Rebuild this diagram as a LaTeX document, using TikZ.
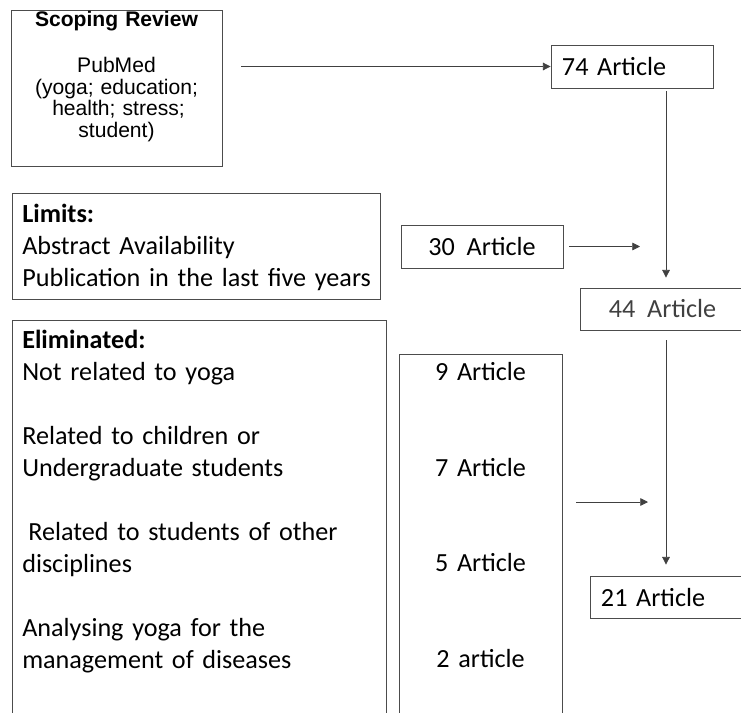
\documentclass[tikz,border=0pt]{standalone}
\usepackage{fontspec}
\setmainfont{Carlito}
\newfontfamily\arialfont{Liberation Sans}
\usetikzlibrary{positioning,arrows.meta}

\begin{document}
\begin{tikzpicture}[x=0.025cm,y=-0.025cm,
  every node/.style={inner sep=0pt},
  box/.style={rectangle,draw=black!70,line width=0.6pt},
  txt/.style={font=\fontsize{18.6}{22.8}\selectfont,align=left},
  arr/.style={-{Triangle[length=5.5pt,width=5.5pt]},draw=black!75,line width=0.6pt}]
  \useasboundingbox (0,0) rectangle (741,712);
  \clip (0,0) rectangle (741,712);
  % search
  \node (scoping) [box,minimum width=5.275cm,minimum height=3.9cm] at (116.5,88) {};
  \node (pubmed) [font=\arialfont\fontsize{15}{15.3}\selectfont,text width=5cm,align=center,anchor=base] at (116.5,26)
    {\textbf{Scoping Review}\\[18pt]PubMed\\(yoga; education;\\\hspace*{0.1cm}health; stress;\\student)};
  \node (a74) [box,txt,minimum width=4.05cm,minimum height=1.075cm,text width=3.5cm,inner xsep=0.275cm] at (632,66.5) {74 Article};
  % limits
  \node (limits) [box,minimum width=9.2cm,minimum height=2.65cm] at (196,246) {};
  \node (limitstxt) [txt,text width=9cm,anchor=base west] at (22,222)
    {\textbf{Limits:}\\Abstract Availability\\Publication in the last five years};
  \node (a30) [box,txt,minimum width=4.05cm,minimum height=1.075cm] at (482,246.5) {30\ \ Article};
  \node (a44) [box,txt,text=black!75,minimum width=4.125cm,minimum height=1.05cm] at (662.5,309) {44\ \ Article};
  % eliminated
  \node (elim) [box,minimum width=9.35cm,minimum height=11cm] at (199,540) {};
  \node (elimtxt) [txt,text width=9cm,anchor=base west] at (22,348)
    {\textbf{Eliminated:}\\Not related to yoga\\[22.8pt]Related to children or\\Undergraduate students\\[22.8pt]%
     \hspace*{0.15cm}Related to students of other\\disciplines\\[22.8pt]Analysing yoga for the\\management of diseases};
  \node (counts) [box,minimum width=4.075cm,minimum height=10.15cm] at (480.5,557) {};
  \node (countstxt) [txt,text width=3.5cm,align=center,anchor=base] at (480.5,380)
    {9 Article\\[45.5pt]7 Article\\[45pt]5 Article\\[45.5pt]2 article};
  \node (a21) [box,txt,minimum width=4.05cm,minimum height=1.05cm,text width=3.5cm,inner xsep=0.275cm] at (671,597) {21 Article};
  % connectors
  \coordinate (vline) at (666,0);
  \coordinate (split) at (0,502);
  \draw[arr,shorten <=0.475cm] (scoping.east |- a74.west) -- (a74.west);
  \draw[arr,shorten <=0.075cm,shorten >=0.25cm] (vline |- a74.south) -- (vline |- a44.north);
  \draw[arr,shorten <=0.15cm,shorten >=0.65cm] (a30.east) -- (vline |- a30.east);
  \draw[arr,shorten <=0.25cm,shorten >=0.275cm] (vline |- a44.south) -- (vline |- a21.north);
  \draw[arr,shorten <=0.35cm,shorten >=0.45cm] (counts.east |- split) -- (vline |- split);
\end{tikzpicture}
\end{document}
